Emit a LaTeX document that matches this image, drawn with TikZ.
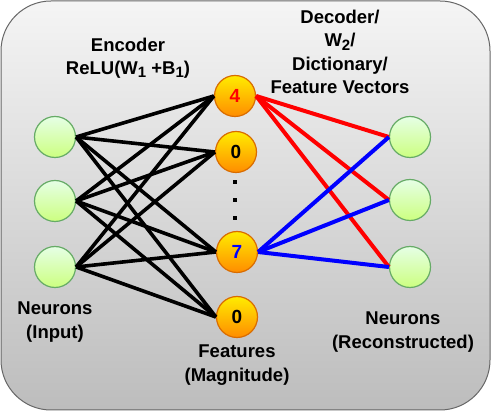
\documentclass[tikz,border=0pt]{standalone}
\usepackage{fontspec}
\setmainfont{Liberation Sans}
\newcommand{\lowsub}[1]{\raisebox{-0.35ex}{\fontsize{15}{15}\selectfont #1}}
\begin{document}
\begin{tikzpicture}[x=1pt,y=-1pt,
  inneuron/.style={circle,draw=green!45!black!60,line width=1.2pt,top color=green!10!white,bottom color=green!40!yellow!50,minimum size=41pt,inner sep=0pt},
  feat/.style={circle,draw=orange!85!black,line width=1.2pt,top color=yellow!85!orange,bottom color=orange!90!yellow,minimum size=41pt,inner sep=0pt,font=\fontsize{19}{20}\selectfont\bfseries},
  lbl/.style={align=center,font=\fontsize{18.5}{23.5}\selectfont\bfseries},
  dotnode/.style={fill=black,inner sep=0pt,minimum size=4pt},
  enc/.style={line width=3.6pt,black},
  decr/.style={line width=4pt,red},
  decb/.style={line width=4pt,blue}]
\useasboundingbox (0,0) rectangle (491,411);
\path[draw=black!60,line width=1pt,top color=black!4,bottom color=black!26,rounded corners=50pt] (1,1) rectangle (490,410);
% input neurons
\node[inneuron] (i1) at (55,137) {};
\node[inneuron] (i2) at (55,201) {};
\node[inneuron] (i3) at (55,267) {};
% features
\node[feat,text=red] (f1) at (235,96) {4};
\node[feat] (f2) at (236,152) {0};
\node[feat,text=blue] (f3) at (237,252) {7};
\node[feat] (f4) at (237,317) {0};
% output neurons
\node[inneuron] (o1) at (410,137) {};
\node[inneuron] (o2) at (410,200) {};
\node[inneuron] (o3) at (410,267) {};
% dots
\node[dotnode] (d1) at (235,182) {};
\node[dotnode] (d2) at (235,200) {};
\node[dotnode] (d3) at (235,218) {};
% encoder edges
\foreach \i in {i1,i2,i3}{
  \foreach \f in {f1,f2,f3,f4}{
    \draw[enc] (\i.east) -- (\f.west);
  }
}
% decoder edges
\foreach \o in {o1,o2,o3}{
  \draw[decr] (f1.east) -- (\o.west);
}
\foreach \o in {o1,o2,o3}{
  \draw[decb] (f3.east) -- (\o.west);
}
% labels
\node[lbl] (tenc) at (128,58) {Encoder\\ReLU(W\lowsub{1} +B\lowsub{1})};
\node[lbl] (tdec) at (340,52) {Decoder/\\W\lowsub{2}/\\Dictionary/\\Feature Vectors};
\node[lbl] (tin) at (55,322) {Neurons\\(Input)};
\node[lbl] (tfeat) at (237,365) {Features\\(Magnitude)};
\node[lbl] (tout) at (403,332) {Neurons\\(Reconstructed)};
\end{tikzpicture}
\end{document}
